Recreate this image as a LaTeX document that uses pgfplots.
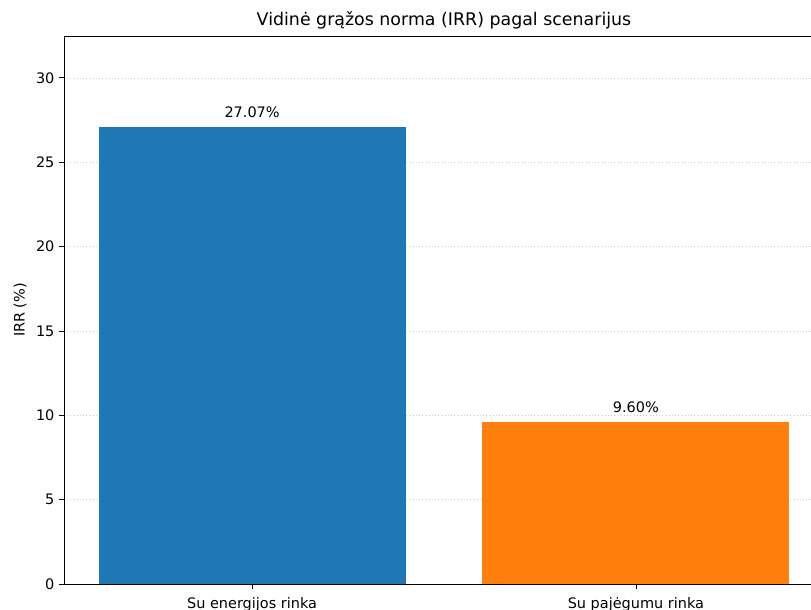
\documentclass[border=0pt]{standalone}
\usepackage{pgfplots}
\pgfplotsset{compat=1.18}
\usepackage{fontspec}
\setmainfont{DejaVu Sans}
\definecolor{mplblue}{HTML}{1F77B4}
\definecolor{mplorange}{HTML}{FF7F0E}
\begin{document}
\begin{tikzpicture}
\path[use as bounding box, clip] (-48pt,-19.5pt) rectangle (560.25pt,438pt);
\begin{axis}[
  at={(0pt,0pt)}, anchor=south west,
  scale only axis,
  width=570pt, height=411pt,
  xmin=-0.49, xmax=1.49,
  ymin=0, ymax=32.484,
  xtick={0,1},
  xticklabels={Su energijos rinka, Su pajėgumu rinka},
  ytick={0,5,10,15,20,25,30},
  tick align=outside,
  xtick pos=bottom, ytick pos=left,
  major tick length=3.65pt,
  tick style={black, line width=0.6pt},
  axis line style={black, line width=0.6pt},
  ymajorgrids,
  grid style={dotted, gray!40, line width=0.5pt},
  ticklabel style={font=\fontsize{10.85}{13}\selectfont},
  /pgf/number format/assume math mode=true,
  xticklabel style={yshift=-3pt},
  title={Vidinė grąžos norma (IRR) pagal scenarijus},
  title style={font=\fontsize{13.05}{15.6}\selectfont, at={(axis description cs:0.5,1)}, anchor=south, yshift=-4.5pt},
  ylabel={IRR (\%)},
  ylabel style={font=\fontsize{10.85}{13}\selectfont, at={(axis description cs:-0.0579,0.5)}, anchor=center},
  ybar, bar width=0.8, bar shift=0pt,
  nodes near coords,
  point meta=explicit symbolic,
  every node near coord/.append style={font=\fontsize{10.85}{13}\selectfont, black, yshift=3.5pt},
]
\addplot[fill=mplblue, draw=none] coordinates {(0,27.07) [27.07\%]};
\addplot[fill=mplorange, draw=none] coordinates {(1,9.60) [9.60\%]};
\end{axis}
\end{tikzpicture}
\end{document}
